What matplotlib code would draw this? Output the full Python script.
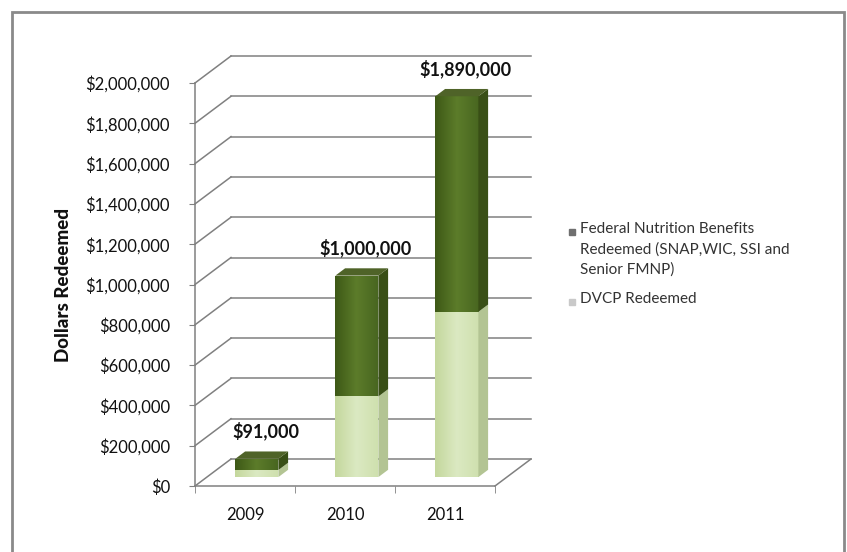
import numpy as np
import matplotlib
matplotlib.use("Agg")
import matplotlib.pyplot as plt
from matplotlib.patches import Polygon, Rectangle
from matplotlib.lines import Line2D
from matplotlib.ticker import FuncFormatter, FixedLocator
from matplotlib.colors import LinearSegmentedColormap

# ---- data -------------------------------------------------------------
years = ["2009", "2010", "2011"]
dvcp_redeemed = [35000, 400000, 820000]
total_redeemed = [91000, 1000000, 1890000]
federal_redeemed = [t - d for t, d in zip(total_redeemed, dvcp_redeemed)]
total_labels = ["$91,000", "$1,000,000", "$1,890,000"]
y_tick_values = list(range(0, 2000001, 200000))
series_names = ["Federal Nutrition Benefits\nRedeemed (SNAP,WIC, SSI and\nSenior FMNP)",
                "DVCP Redeemed"]

# ---- figure / scales ---------------------------------------------------
W, H, DPI = 847, 552, 100
FONT = ["Lato", "DejaVu Sans"]
plt.rcParams["font.family"] = FONT

fig = plt.figure(figsize=(W / DPI, H / DPI), dpi=DPI)
fig.patch.set_facecolor("white")
ax = fig.add_axes([0, 0, 1, 1])
ax.set_facecolor("none")

px_per_cat = 100.0            # horizontal pixels per category
px_per_dollar = 403.0 / 2e6   # vertical pixels per dollar
x_left_px, y_zero_px = 195.0, 486.0
XLIM = (-0.5 - x_left_px / px_per_cat, -0.5 + (W - x_left_px) / px_per_cat)
YLIM = ((y_zero_px - H) / px_per_dollar, y_zero_px / px_per_dollar)
ax.set_xlim(*XLIM)
ax.set_ylim(*YLIM)

# oblique depth of the chart box (one full depth unit)
DX = 36.0 / px_per_cat
DY = 27.0 / px_per_dollar
x_min, x_max = -0.5, len(years) - 0.5

grid_col = "#808080"
# back wall gridlines and left wall diagonals
for v in y_tick_values:
    ax.plot([x_min + DX, x_max + DX], [v + DY, v + DY], color=grid_col, lw=1.1, zorder=1)
    ax.plot([x_min, x_min + DX], [v, v + DY], color=grid_col, lw=1.1, zorder=1)
# right edge of the floor
ax.plot([x_max, x_max + DX], [0, DY], color=grid_col, lw=1.1, zorder=1)

# ---- axes spines / ticks ----------------------------------------------
for s in ["top", "right"]:
    ax.spines[s].set_visible(False)
ax.spines["left"].set_position(("data", x_min))
ax.spines["left"].set_bounds(0, 2e6)
ax.spines["bottom"].set_position(("data", 0))
ax.spines["bottom"].set_bounds(x_min, x_max)
for s in ["left", "bottom"]:
    ax.spines[s].set_color(grid_col)
    ax.spines[s].set_linewidth(1.1)

ax.yaxis.set_major_locator(FixedLocator(y_tick_values))
ax.yaxis.set_major_formatter(FuncFormatter(lambda v, p: f"${v:,.0f}"))
ax.tick_params(axis="y", direction="out", length=4, color=grid_col,
               labelsize=12, labelcolor="#111111", pad=14)
ax.set_xticks(range(len(years)))
ax.set_xticklabels(years)
ax.set_xticks(np.arange(x_min, x_max + 0.01, 1.0), minor=True)
ax.tick_params(axis="x", which="major", length=0, labelsize=12,
               labelcolor="#111111", pad=15)
ax.tick_params(axis="x", which="minor", direction="out", length=5, color=grid_col)

ax.set_ylabel("Dollars Redeemed", fontsize=13.5, fontweight="black", color="#111111")
ax.yaxis.set_label_coords(72 / W, 1 - 285 / H)

# ---- bars ---------------------------------------------------------------
d0, d1 = 0.33, 0.60
bar_w = 0.43
ddx, ddy = (d1 - d0) * DX, (d1 - d0) * DY

light = dict(front=["#c4d79c", "#dbe9c2", "#cfe0ae"], side="#b3c493", top="#e2edcc")
dark = dict(front=["#3d5816", "#5c7c2a", "#486620"], side="#394f16", top="#4f6328")


def shaded_front(bars, colors):
    cmap = LinearSegmentedColormap.from_list("g", colors)
    grad = np.linspace(0, 1, 256).reshape(1, -1)
    for b in bars:
        x0, y0 = b.get_x(), b.get_y()
        im = ax.imshow(grad, cmap=cmap, aspect="auto", zorder=3,
                       extent=(x0, x0 + b.get_width(), y0, y0 + b.get_height()))
        im.set_clip_path(b)


xc = np.arange(len(years)) + d0 * DX
front_light = ax.bar(xc, dvcp_redeemed, width=bar_w, bottom=d0 * DY,
                     color=light["front"][1], zorder=3, linewidth=0)
front_dark = ax.bar(xc, federal_redeemed, width=bar_w,
                    bottom=[d + d0 * DY for d in dvcp_redeemed],
                    color=dark["front"][1], zorder=3, linewidth=0)
shaded_front(front_light, light["front"])
shaded_front(front_dark, dark["front"])
ax.set_xlim(*XLIM)
ax.set_ylim(*YLIM)

for i in range(len(years)):
    xl = xc[i] - bar_w / 2
    xr = xc[i] + bar_w / 2
    segs = [(0, dvcp_redeemed[i], light), (dvcp_redeemed[i], total_redeemed[i], dark)]
    for lo, hi, pal in segs:
        side = [(xr, lo + d0 * DY), (xr + ddx, lo + d1 * DY),
                (xr + ddx, hi + d1 * DY), (xr, hi + d0 * DY)]
        ax.add_patch(Polygon(side, closed=True, facecolor=pal["side"],
                             edgecolor="none", zorder=3))
    top = total_redeemed[i]
    top_face = [(xl, top + d0 * DY), (xr, top + d0 * DY),
                (xr + ddx, top + d1 * DY), (xl + ddx, top + d1 * DY)]
    ax.add_patch(Polygon(top_face, closed=True, facecolor=dark["top"],
                         edgecolor="none", zorder=3))
    ax.annotate(total_labels[i], (xc[i] + ddx / 2 + 0.04, top + d1 * DY),
                xytext=(0, 8), textcoords="offset points", ha="center",
                va="bottom", fontsize=13, fontweight="bold", color="#111111")

# ---- legend -----------------------------------------------------------
leg_x, text_x = 572 / W, 580 / W
entries = [(1 - 232 / H, "#6f6f6f", series_names[0]),
           (1 - 302 / H, "#c9c9c9", series_names[1])]
for y, col, name in entries:
    fig.add_artist(Line2D([leg_x], [y], marker="s", markersize=4.5, color=col,
                          linestyle="none", transform=fig.transFigure))
    fig.text(text_x, y + 10 / H, name, ha="left", va="top", fontsize=11,
             color="#333333", linespacing=1.55)

# ---- outer frame --------------------------------------------------------
fig.add_artist(Rectangle((12 / W, -0.1), 832 / W, 1.1 - 12 / H,
                         transform=fig.transFigure, fill=False,
                         edgecolor="#8a8a8a", linewidth=2))

fig.savefig("out.png", dpi=DPI, facecolor="white")
